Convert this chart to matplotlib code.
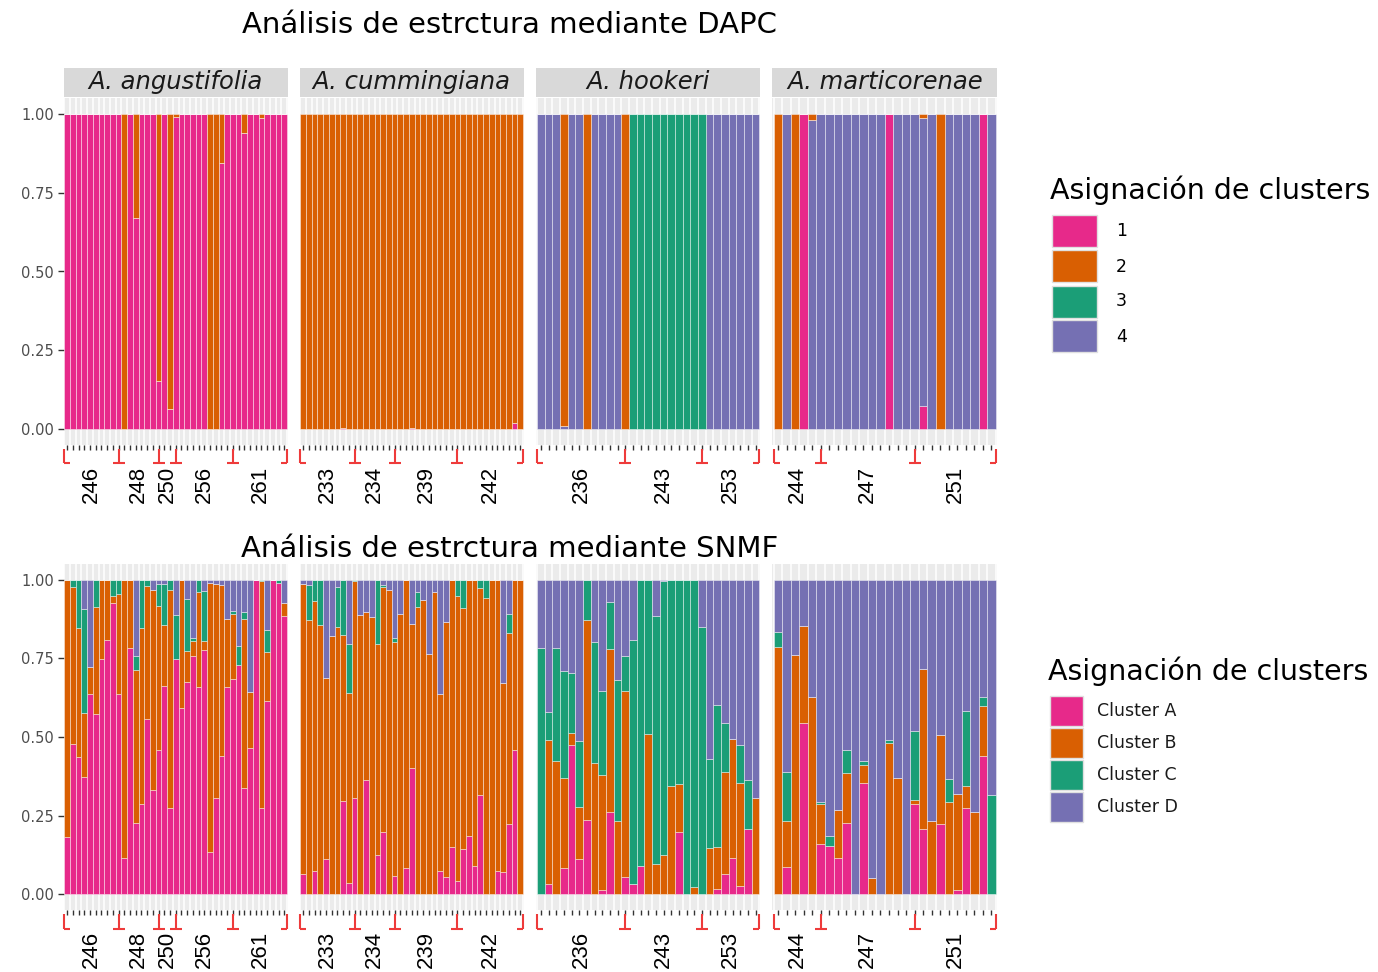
import numpy as np
import matplotlib
matplotlib.use("Agg")
import matplotlib.pyplot as plt
from matplotlib.patches import Rectangle
from matplotlib.transforms import blended_transform_factory

# ---------------- data ----------------
species = ["A. angustifolia", "A. cummingiana", "A. hookeri", "A. marticorenae"]

group_labels = [["246", "248", "250", "256", "261"],
                ["233", "234", "239", "242"],
                ["236", "243", "253"],
                ["244", "247", "251"]]
group_sizes = [[9, 7, 3, 10, 10],
               [9, 7, 11, 12],
               [11, 10, 8],
               [5, 11, 10]]

dapc_colors = {"1": "#E7298A", "2": "#D95F02", "3": "#1B9E77", "4": "#7570B3"}
snmf_names = ["Cluster A", "Cluster B", "Cluster C", "Cluster D"]
snmf_colors = ["#E7298A", "#D95F02", "#1B9E77", "#7570B3"]

# DAPC membership probabilities (clusters 1..4)
dapc_ang_1 = [1, 1, 1, 1, 1, 1, 1, 1, 1, 1, 0, 1, 0.67, 1, 1, 1, 0.154, 1, 0.064, 0.99,
              1, 1, 1, 1, 1, 0, 0, 0.843, 1, 1, 1, 0.94, 1, 1, 0.986, 1, 1, 1, 1]
dapc_ang_2 = [0, 0, 0, 0, 0, 0, 0, 0, 0, 0, 1, 0, 0.33, 0, 0, 0, 0.846, 0, 0.936, 0.01,
              0, 0, 0, 0, 0, 1, 1, 0.157, 0, 0, 0, 0.06, 0, 0, 0.014, 0, 0, 0, 0]
dapc_ang_3 = [0] * 39
dapc_ang_4 = [0] * 39

dapc_cum_1 = [0, 0, 0, 0, 0, 0, 0, 0.004, 0, 0, 0, 0, 0, 0, 0, 0, 0, 0, 0, 0.004,
              0, 0, 0, 0, 0, 0, 0, 0, 0, 0, 0, 0, 0, 0, 0, 0, 0, 0.02, 0]
dapc_cum_2 = [1, 1, 1, 1, 1, 1, 1, 0.996, 1, 1, 1, 1, 1, 1, 1, 1, 1, 1, 1, 0.996,
              1, 1, 1, 1, 1, 1, 1, 1, 1, 1, 1, 1, 1, 1, 1, 1, 1, 0.98, 1]
dapc_cum_3 = [0] * 39
dapc_cum_4 = [0] * 39

dapc_hoo_1 = [0] * 29
dapc_hoo_2 = [0, 0, 0, 0.99, 0, 0, 1, 0, 0, 0, 0, 1, 0, 0, 0, 0, 0, 0, 0, 0,
              0, 0, 0, 0, 0, 0, 0, 0, 0]
dapc_hoo_3 = [0, 0, 0, 0, 0, 0, 0, 0, 0, 0, 0, 0, 1, 1, 1, 1, 1, 1, 1, 1,
              1, 1, 0, 0, 0, 0, 0, 0, 0]
dapc_hoo_4 = [1, 1, 1, 0.01, 1, 1, 0, 1, 1, 1, 1, 0, 0, 0, 0, 0, 0, 0, 0, 0,
              0, 0, 1, 1, 1, 1, 1, 1, 1]

dapc_mar_1 = [0, 0, 0, 1, 0, 0, 0, 0, 0, 0, 0, 0, 0, 1, 0, 0, 0, 0.074, 0, 0,
              0, 0, 0, 0, 1, 0]
dapc_mar_2 = [1, 0, 1, 0, 0.02, 0, 0, 0, 0, 0, 0, 0, 0, 0, 0, 0, 0, 0.012, 0, 1,
              0, 0, 0, 0, 0, 0]
dapc_mar_3 = [0] * 26
dapc_mar_4 = [0, 1, 0, 0, 0.98, 1, 1, 1, 1, 1, 1, 1, 1, 0, 1, 1, 1, 0.914, 1, 0,
              1, 1, 1, 1, 0, 1]

# SNMF ancestry coefficients (clusters A, B, C; D is the remainder to 1)
snmf_ang_A = [0.183, 0.477, 0.436, 0.372, 0.636, 0.573, 0.748, 0.808, 0.926, 0.636,
              0.114, 0.784, 0.228, 0.287, 0.556, 0.333, 0.459, 0.662, 0.273, 0.747,
              0.591, 0.676, 0.756, 0.660, 0.777, 0.133, 0.305, 0.441, 0.660, 0.685,
              0.729, 0.339, 0.466, 1.0, 0.273, 0.616, 1.0, 0.989, 0.886]
snmf_ang_B = [0.817, 0.499, 0.412, 0.205, 0.086, 0.339, 0.252, 0.192, 0.023, 0.318,
              0.886, 0.216, 0.485, 0.559, 0.423, 0.635, 0.459, 0.193, 0.693, 0.0,
              0.409, 0.098, 0.050, 0.300, 0.029, 0.856, 0.681, 0.543, 0.215, 0.206,
              0.0, 0.536, 0.178, 0.0, 0.722, 0.154, 0.0, 0.0, 0.040]
snmf_ang_C = [0.0, 0.024, 0.152, 0.330, 0.0, 0.088, 0.0, 0.0, 0.051, 0.046,
              0.0, 0.0, 0.046, 0.154, 0.021, 0.0, 0.068, 0.131, 0.034, 0.141,
              0.0, 0.164, 0.008, 0.040, 0.157, 0.0, 0.0, 0.0, 0.0, 0.010,
              0.059, 0.022, 0.0, 0.0, 0.005, 0.069, 0.0, 0.011, 0.0]

snmf_cum_A = [0.063, 0.0, 0.074, 0.0, 0.111, 0.0, 0.0, 0.296, 0.036, 0.305,
              0.0, 0.363, 0.0, 0.126, 0.199, 0.0, 0.057, 0.0, 0.082, 0.402,
              0.0, 0.0, 0.0, 0.0, 0.073, 0.055, 0.151, 0.041, 0.143, 0.185,
              0.089, 0.317, 0.0, 0.0, 0.073, 0.071, 0.225, 0.459, 0.0]
snmf_cum_B = [0.923, 0.873, 0.857, 0.857, 0.576, 0.822, 0.851, 0.529, 0.603, 0.690,
              0.889, 0.534, 0.881, 0.670, 0.778, 0.968, 0.744, 0.891, 0.918, 0.458,
              0.912, 0.936, 0.763, 0.961, 0.563, 0.810, 0.849, 0.908, 0.767, 0.815,
              0.911, 0.656, 0.942, 1.0, 0.927, 0.600, 0.605, 0.541, 1.0]
snmf_cum_C = [0.0, 0.111, 0.069, 0.143, 0.0, 0.0, 0.126, 0.175, 0.156, 0.005,
              0.0, 0.0, 0.0, 0.204, 0.007, 0.0, 0.015, 0.0, 0.0, 0.0,
              0.048, 0.0, 0.0, 0.0, 0.0, 0.0, 0.0, 0.051, 0.090, 0.0,
              0.0, 0.027, 0.058, 0.0, 0.0, 0.0, 0.061, 0.0, 0.0]

snmf_hoo_A = [0.0, 0.034, 0.0, 0.082, 0.474, 0.112, 0.236, 0.0, 0.013, 0.260,
              0.0, 0.055, 0.034, 0.091, 0.0, 0.0, 0.0, 0.0, 0.197, 0.0,
              0.0, 0.0, 0.0, 0.016, 0.064, 0.115, 0.027, 0.206, 0.0]
snmf_hoo_B = [0.0, 0.458, 0.423, 0.288, 0.039, 0.165, 0.637, 0.417, 0.367, 0.521,
              0.232, 0.592, 0.0, 0.0, 0.511, 0.096, 0.125, 0.344, 0.154, 0.0,
              0.024, 0.0, 0.147, 0.133, 0.325, 0.378, 0.328, 0.0, 0.306]
snmf_hoo_C = [0.783, 0.086, 0.360, 0.340, 0.190, 0.211, 0.127, 0.384, 0.267, 0.148,
              0.450, 0.109, 0.773, 0.909, 0.489, 0.788, 0.871, 0.656, 0.649, 1.0,
              0.976, 0.850, 0.282, 0.453, 0.154, 0.0, 0.119, 0.156, 0.0]

snmf_mar_A = [0.0, 0.088, 0.0, 0.543, 0.0, 0.160, 0.155, 0.115, 0.227, 0.0,
              0.355, 0.0, 0.0, 0.0, 0.0, 0.0, 0.288, 0.206, 0.0, 0.225,
              0.0, 0.015, 0.275, 0.0, 0.441, 0.0]
snmf_mar_B = [0.787, 0.146, 0.762, 0.310, 0.628, 0.126, 0.0, 0.152, 0.158, 0.0,
              0.057, 0.052, 0.0, 0.482, 0.369, 0.0, 0.011, 0.510, 0.234, 0.280,
              0.294, 0.305, 0.070, 0.262, 0.157, 0.0]
snmf_mar_C = [0.048, 0.154, 0.0, 0.0, 0.0, 0.007, 0.029, 0.0, 0.075, 0.0,
              0.011, 0.0, 0.0, 0.007, 0.0, 0.0, 0.219, 0.0, 0.0, 0.0,
              0.071, 0.0, 0.239, 0.0, 0.028, 0.316]

# DAPC stacking (bottom -> top): 1, 4, 3, 2
dapc_data = [
    {"1": dapc_ang_1, "2": dapc_ang_2, "3": dapc_ang_3, "4": dapc_ang_4},
    {"1": dapc_cum_1, "2": dapc_cum_2, "3": dapc_cum_3, "4": dapc_cum_4},
    {"1": dapc_hoo_1, "2": dapc_hoo_2, "3": dapc_hoo_3, "4": dapc_hoo_4},
    {"1": dapc_mar_1, "2": dapc_mar_2, "3": dapc_mar_3, "4": dapc_mar_4},
]
dapc_stack = ["1", "4", "3", "2"]

snmf_data = [
    (snmf_ang_A, snmf_ang_B, snmf_ang_C),
    (snmf_cum_A, snmf_cum_B, snmf_cum_C),
    (snmf_hoo_A, snmf_hoo_B, snmf_hoo_C),
    (snmf_mar_A, snmf_mar_B, snmf_mar_C),
]

# ---------------- layout ----------------
W, H = 1378, 972
fig = plt.figure(figsize=(W / 100, H / 100), dpi=100)


def fx(px):
    return px / W


def fy(py):
    return 1 - py / H


panel_left = [63.5, 299.5, 536, 772.5]
panel_w = 224.5
rows = {"top": (98, 445), "bot": (564, 910)}
RED = "#EE3B3B"
MARG = 0.15


def make_ax(col, row):
    t, b = rows[row]
    ax = fig.add_axes([fx(panel_left[col]), fy(b), fx(panel_w), (b - t) / H])
    return ax


def style_ax(ax, n, first, row):
    ax.set_xlim(-0.5 - MARG, n - 0.5 + MARG)
    ax.set_ylim(-0.05, 1.05)
    ax.set_facecolor("#EBEBEB")
    for e in np.arange(n + 1) - 0.5:
        ax.axvline(e, color="white", lw=1.1, zorder=1)
    for s in ax.spines.values():
        s.set_visible(False)
    ax.set_xticks(np.arange(n))
    ax.set_xticklabels([])
    ax.tick_params(axis="x", length=3.5, width=1.0, color="#333333")
    if first:
        ax.set_yticks([0, 0.25, 0.5, 0.75, 1.0])
        ax.set_yticklabels(["0.00", "0.25", "0.50", "0.75", "1.00"])
        ax.tick_params(axis="y", length=4, width=1.0, color="#333333",
                       labelcolor="#4D4D4D", labelsize=10.5, pad=3)
    else:
        ax.set_yticks([])


def draw_groups(ax, sizes, labels, n, row):
    t, b = rows[row]
    hpx = b - t
    starts = np.cumsum([0] + list(sizes[:-1]))
    bounds = [-0.5] + [float(s) for s in starts[1:]] + [n - 0.5]
    ppu = panel_w / (n - 1 + 2 * (0.5 + MARG))
    foot = 6.0 / ppu
    tr = blended_transform_factory(ax.transData, ax.transAxes)
    y0 = -4.0 / hpx
    y1 = -18.5 / hpx
    for k, xb in enumerate(bounds):
        ax.plot([xb, xb], [y0, y1], color=RED, lw=1.5, transform=tr, clip_on=False,
                solid_capstyle="butt")
        if k == 0:
            xs = [xb, xb + foot]
        elif k == len(bounds) - 1:
            xs = [xb - foot, xb]
        else:
            xs = [xb - foot, xb + foot]
        ax.plot(xs, [y1, y1], color=RED, lw=1.5, transform=tr, clip_on=False,
                solid_capstyle="butt")
    for k, lab in enumerate(labels):
        xc = (bounds[k] + bounds[k + 1]) / 2
        ax.text(xc, -21.0 / hpx, lab, transform=tr, rotation=90, ha="center", va="top",
                fontsize=16, family=["Liberation Sans", "DejaVu Sans"],
                color="black")


# ---------------- top row: DAPC ----------------
for c in range(4):
    ax = make_ax(c, "top")
    d = dapc_data[c]
    n = len(d["1"])
    x = np.arange(n)
    bottom = np.zeros(n)
    for k in dapc_stack:
        vals = np.array(d[k], dtype=float)
        ax.bar(x, vals, width=1.0, bottom=bottom, color=dapc_colors[k],
               edgecolor=(1, 1, 1, 0.5), linewidth=0.6, zorder=2)
        bottom += vals
    style_ax(ax, n, c == 0, "top")
    draw_groups(ax, group_sizes[c], group_labels[c], n, "top")
    t, b = rows["top"]
    hpx = b - t
    ax.add_patch(Rectangle((0, 1 + 1.0 / hpx), 1, 29.0 / hpx, transform=ax.transAxes,
                           facecolor="#D9D9D9", edgecolor="none", clip_on=False))
    ax.text(0.5, 1 + 15.5 / hpx, species[c], transform=ax.transAxes, ha="center",
            va="center", fontsize=17.5, style="italic", color="#1A1A1A")

# ---------------- bottom row: SNMF ----------------
for c in range(4):
    ax = make_ax(c, "bot")
    A, B, C = [np.array(v, dtype=float) for v in snmf_data[c]]
    D = np.clip(1 - A - B - C, 0, None)
    n = len(A)
    x = np.arange(n)
    bottom = np.zeros(n)
    for vals, col in zip([A, B, C, D], snmf_colors):
        ax.bar(x, vals, width=1.0, bottom=bottom, color=col,
               edgecolor=(1, 1, 1, 0.5), linewidth=0.6, zorder=2)
        bottom += vals
    style_ax(ax, n, c == 0, "bot")
    draw_groups(ax, group_sizes[c], group_labels[c], n, "bot")

# ---------------- titles ----------------
fig.text(fx(510), fy(25), "Análisis de estrctura mediante DAPC", ha="center", va="center",
         fontsize=21, color="black")
fig.text(fx(510), fy(549), "Análisis de estrctura mediante SNMF", ha="center", va="center",
         fontsize=21, color="black")

# ---------------- legends ----------------
fig.text(fx(1050), fy(199), "Asignación de clusters", ha="left", va="baseline",
         fontsize=20.5, color="black")
for i, k in enumerate(["1", "2", "3", "4"]):
    y_top = 215.5 + 35 * i
    fig.add_artist(Rectangle((fx(1051.5), fy(y_top + 32)), fx(45), 32 / H,
                             transform=fig.transFigure, facecolor=dapc_colors[k],
                             edgecolor="#E0E0E0", lw=1.0))
    fig.text(fx(1116), fy(y_top + 16), k, ha="left", va="center", fontsize=12.5,
             color="black")

fig.text(fx(1048), fy(680), "Asignación de clusters", ha="left", va="baseline",
         fontsize=20.5, color="black")
for i, (name, col) in enumerate(zip(snmf_names, snmf_colors)):
    y_top = 696 + 32 * i
    fig.add_artist(Rectangle((fx(1049.5), fy(y_top + 30)), fx(33.5), 30 / H,
                             transform=fig.transFigure, facecolor=col,
                             edgecolor="#E0E0E0", lw=1.0))
    fig.text(fx(1097), fy(y_top + 15), name, ha="left", va="center", fontsize=12.5,
             color="#1A1A1A")

fig.savefig("out.png", dpi=100, facecolor="white")
